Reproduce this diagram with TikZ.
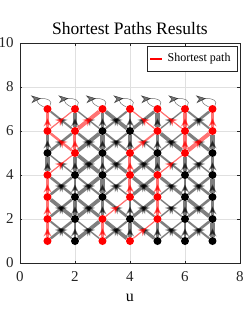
\documentclass[tikz,border=0pt]{standalone}
\usepackage{fontspec}
\setmainfont{Liberation Serif}
\usetikzlibrary{arrows.meta, decorations.markings, backgrounds}

\begin{document}
\begin{tikzpicture}[
        x=27.5pt, y=22pt,
        vtx/.style={circle, fill=black, inner sep=0pt, minimum size=8pt},
        midarrow/.style={postaction={decorate}, decoration={markings,
            mark=at position 0.62 with {\arrow{Stealth[length=8pt, width=8pt, inset=2.5pt]}}}},
        link/.style={draw=black, opacity=0.5, midarrow},
        pathlink/.style={draw=red, opacity=0.55, midarrow},
        selfloop/.style={draw=black, opacity=0.55, line width=0.5pt, postaction={decorate},
            decoration={markings, mark=at position 0.5 with {\arrow{Stealth[length=10pt, width=8pt, inset=3pt]}}}},
        gridline/.style={draw=black!12, line width=0.4pt},
        frame/.style={draw=black!85, line width=0.6pt},
        ticklbl/.style={font=\fontsize{15}{15}\selectfont, inner sep=0pt, text=black!85},
        legendbox/.style={draw=black!85, fill=white, line width=0.6pt, minimum width=90pt, minimum height=25pt, inner sep=0pt}
    ]
        \useasboundingbox (-0.727,-2.636) rectangle (8.327,11.955);

        % Nodes
        \foreach \y/\row in {1/{red,black,red,red,black,black,black},
                             2/{red,black,red,black,red,black,black},
                             3/{red,black,black,red,red,black,black},
                             4/{red,black,black,red,red,black,black},
                             5/{black,red,black,red,black,red,black},
                             6/{red,red,black,black,red,red,red},
                             7/{red,red,red,red,red,red,red}}
            \foreach \c [count=\x] in \row
                \node[vtx, fill=\c] (n\x\y) at (\x,\y) {};

        % Shortest path edges: from/to and width
        \def\pathlist{1/1/1/2/2.5, 1/2/1/3/2.5, 1/3/1/4/2.5, 1/4/2/5/1.2, 2/5/2/6/3, 2/5/1/6/2.5,
            2/6/3/7/4, 1/6/1/7/2.5, 1/6/2/7/1.2, 3/1/3/2/2.5, 3/2/4/3/1.2, 4/3/4/4/3,
            4/4/4/5/3, 4/5/5/6/2, 5/6/4/7/1.2, 4/1/5/2/1.2, 5/2/5/3/2.5, 5/3/5/4/2.5,
            5/4/6/5/1.2, 6/5/6/6/3.5, 6/6/6/7/3.5, 6/6/5/7/1.2, 6/5/7/6/4, 7/6/7/7/2.5}
        \foreach \a/\b/\c/\d/\w in \pathlist
            {\expandafter\gdef\csname onpath\a\b\c\d\endcsname{}}

        \begin{scope}[on background layer]
            % Axes
            \foreach \t in {2,4,6}
                \draw[gridline] (\t,0) -- (\t,10);
            \foreach \t in {2,4,6,8}
                \draw[gridline] (0,\t) -- (8,\t);
            \draw[frame] (0,0) rectangle (8,10);
            \foreach \t in {0,2,...,8} {
                \draw[frame] (\t,0) -- ++(0,2.5pt);
                \draw[frame] (\t,10) -- ++(0,-2.5pt);
            }
            \foreach \t in {0,2,...,10} {
                \draw[frame] (0,\t) -- ++(2.5pt,0);
                \draw[frame] (8,\t) -- ++(-2.5pt,0);
            }

            % Graph edges
            \foreach \y in {1,...,6} {
                \pgfmathtruncatemacro\yy{\y+1}
                \foreach \x in {1,...,7} {
                    \pgfmathtruncatemacro\xr{\x+1}
                    \pgfmathtruncatemacro\xl{\x-1}
                    \pgfmathsetmacro\wv{2.4+0.6*mod(3*\x+2*\y,4)}
                    \pgfmathsetmacro\wr{1.4+0.6*mod(2*\x+5*\y,5)}
                    \pgfmathsetmacro\wl{1.4+0.6*mod(4*\x+3*\y,5)}
                    \ifcsname onpath\x\y\x\yy\endcsname\else
                        \draw[link, line width=\wv pt] (n\x\y) -- (n\x\yy);
                    \fi
                    \ifnum\x<7 \ifcsname onpath\x\y\xr\yy\endcsname\else
                        \draw[link, line width=\wr pt] (n\x\y) -- (n\xr\yy);
                    \fi\fi
                    \ifnum\x>1 \ifcsname onpath\x\y\xl\yy\endcsname\else
                        \draw[link, line width=\wl pt] (n\x\y) -- (n\xl\yy);
                    \fi\fi
                }
            }
            \foreach \a/\b/\c/\d/\w in \pathlist
                \draw[pathlink, line width=\w pt] (n\a\b) -- (n\c\d);

            % Self loops on top row
            \foreach \x in {1,...,7}
                \draw[selfloop] (n\x7) .. controls +(-0.9,0.6) and +(0.35,0.6) .. (n\x7);
        \end{scope}

        % Labels
        \node[font=\fontsize{17.5}{20}\selectfont] (title) at (4,10.68) {Shortest Paths Results};
        \node[font=\fontsize{16}{16}\selectfont] (xlab) at (4,-1.59) {u};
        \foreach \t in {0,2,...,8}
            \node[ticklbl, anchor=north] (xt\t) at (\t,-0.36) {\t};
        \foreach \t in {0,2,...,10}
            \node[ticklbl, anchor=east] (yt\t) at (-0.22,\t) {\t};

        % Legend
        \node[legendbox] (legend) at (6.255,9.295) {};
        \coordinate (leg-a) at (4.73,9.27);
        \coordinate (leg-b) at (5.16,9.27);
        \draw[red, line width=2pt] (leg-a) -- (leg-b);
        \node[font=\fontsize{12}{12}\selectfont, anchor=west, inner sep=0pt] (legtext) at (5.36,9.27) {Shortest path};
    \end{tikzpicture}
\end{document}
